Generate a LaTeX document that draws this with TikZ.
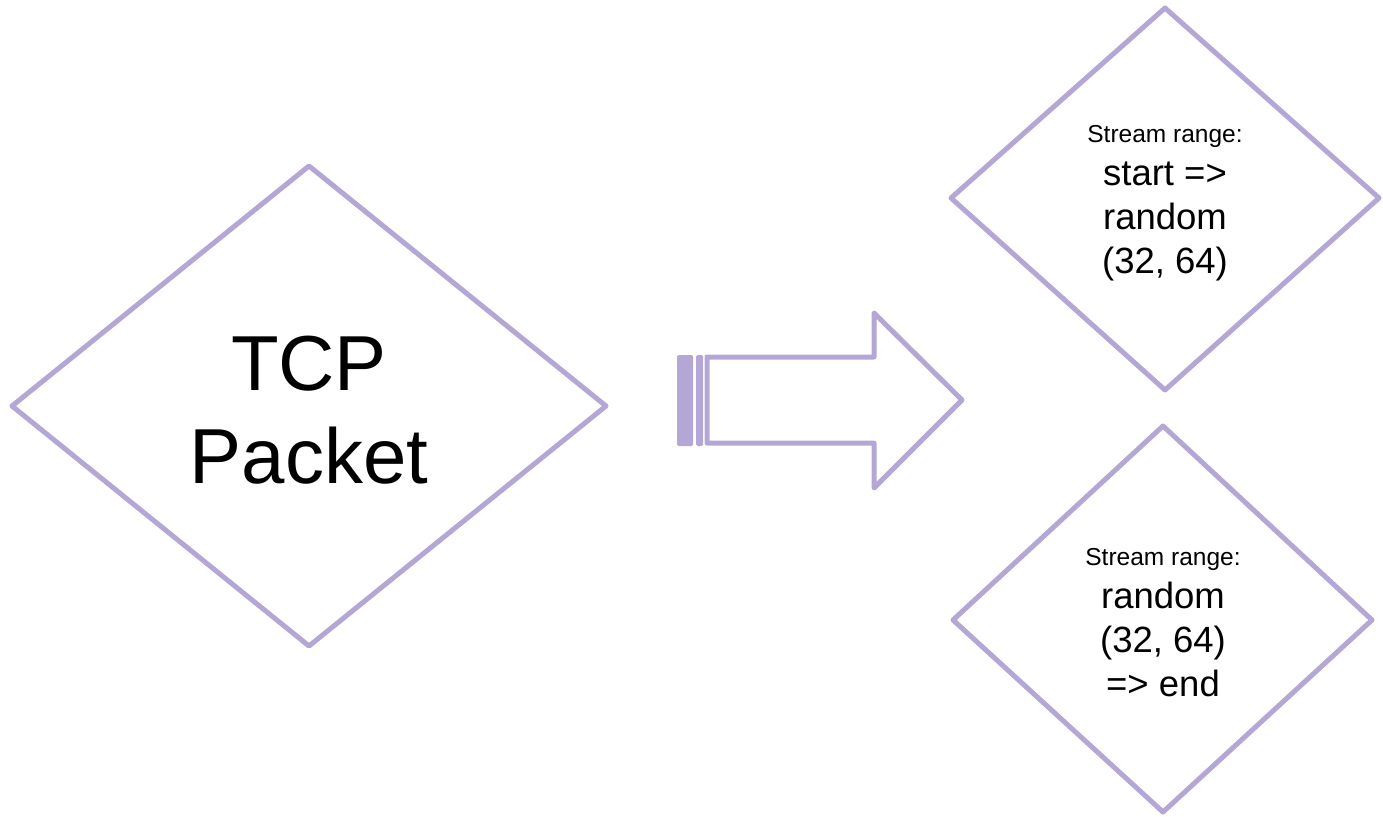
\documentclass[tikz,border=0pt]{standalone}
\usepackage{fontspec}
\setmainfont{Liberation Sans}
\definecolor{lavender}{HTML}{B4A7D6}
\begin{document}
\begin{tikzpicture}[x=1pt,y=-1pt,
  outline/.style={draw=lavender,line width=5pt,line join=round,line cap=round},
  stripe/.style={fill=lavender,rounded corners=1.5pt},
  bigtext/.style={anchor=base,align=center,inner sep=0pt,font=\fontsize{78}{93}\selectfont},
  smalltext/.style={inner sep=0pt,anchor=base,font=\fontsize{24.5}{29}\selectfont},
  midtext/.style={inner sep=0pt,anchor=base,align=center,font=\fontsize{36.5}{44}\selectfont}]
\useasboundingbox (0,0) rectangle (1383,816);

% packet diamond (text anchored at the baseline of its last line)
\coordinate (pL) at (12,406);
\coordinate (pT) at (309,166);
\coordinate (pR) at (606,406);
\coordinate (pB) at (309,646);
\draw[outline] (pL) -- (pT) -- (pR) -- (pB) -- cycle;
\node[bigtext] (packet) at (309,483) {TCP\\Packet};

% striped block arrow
\fill[stripe] (677,355) rectangle (693,446);
\fill[stripe] (696,355) rectangle (703,446);
\coordinate (aA) at (707,357);
\coordinate (aB) at (874,357);
\coordinate (aC) at (874,313);
\coordinate (aTip) at (962,400);
\coordinate (aD) at (874,488);
\coordinate (aE) at (874,443);
\coordinate (aF) at (707,443);
\draw[outline] (aA) -- (aB) -- (aC) -- (aTip) -- (aD) -- (aE) -- (aF) -- cycle;

% upper range diamond
\coordinate (uL) at (951,198);
\coordinate (uT) at (1165,8);
\coordinate (uR) at (1379,198);
\coordinate (uB) at (1165,390);
\draw[outline] (uL) -- (uT) -- (uR) -- (uB) -- cycle;
\node[smalltext] (ulabel) at (1165,142) {Stream range:};
\node[midtext] (urange) at (1165,273) {start =>\\random\\(32, 64)};

% lower range diamond
\coordinate (lL) at (953,620);
\coordinate (lT) at (1163,426);
\coordinate (lR) at (1372,620);
\coordinate (lB) at (1163,812);
\draw[outline] (lL) -- (lT) -- (lR) -- (lB) -- cycle;
\node[smalltext] (llabel) at (1163,565) {Stream range:};
\node[midtext] (lrange) at (1163,696) {random\\(32, 64)\\=> end};
\end{tikzpicture}
\end{document}
